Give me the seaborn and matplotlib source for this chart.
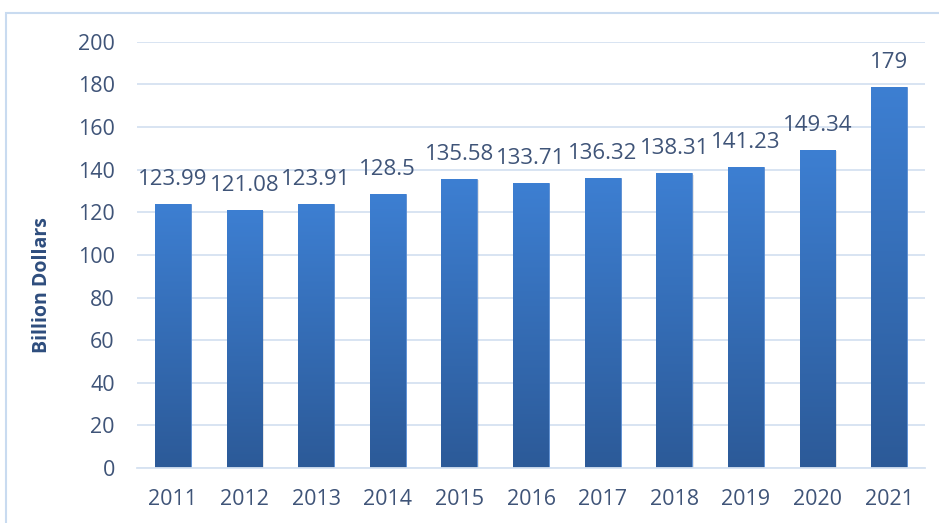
import matplotlib
matplotlib.use("Agg")
import matplotlib.pyplot as plt
import seaborn as sns
import numpy as np
import pandas as pd
from matplotlib.colors import LinearSegmentedColormap
from matplotlib.patches import Rectangle

# data
years = ['2011', '2012', '2013', '2014', '2015', '2016', '2017', '2018', '2019', '2020', '2021']
values = [123.99, 121.08, 123.91, 128.5, 135.58, 133.71, 136.32, 138.31, 141.23, 149.34, 179]
labels = ['123.99', '121.08', '123.91', '128.5', '135.58', '133.71', '136.32', '138.31', '141.23', '149.34', '179']

df = pd.DataFrame({'year': years, 'value': values})

sns.set_style("white")
plt.rcParams['font.family'] = ['Open Sans', 'DejaVu Sans']

text_col = '#3f5478'
grid_col = '#d6e2f1'

fig = plt.figure(figsize=(9.39, 5.23), dpi=100)
ax = fig.add_axes([0.146, 0.105, 0.839, 0.815])

sns.barplot(data=df, x='year', y='value', color='#3a78c8', width=0.5, ax=ax, zorder=2)

# gradient fill on each bar (lighter at top, darker at bottom)
cmap = LinearSegmentedColormap.from_list('bar', ['#2c5a98', '#3d7fd2'])
grad = np.linspace(0, 1, 256).reshape(-1, 1)
for p in ax.patches:
    x0, y0 = p.get_x(), p.get_y()
    w, h = p.get_width(), p.get_height()
    # soft shadow
    ax.add_patch(Rectangle((x0 + 0.02, y0), w, h - 0.6, color='#000000', alpha=0.10, zorder=1.5, lw=0))
    im = ax.imshow(grad, extent=[x0, x0 + w, y0, y0 + h], origin='lower', cmap=cmap,
                   aspect='auto', zorder=2.5)
    im.set_clip_path(p)
    p.set_edgecolor('#5b8fd6')
    p.set_linewidth(0.6)

# value labels
for p, lab in zip(ax.patches, labels):
    ax.text(p.get_x() + p.get_width() / 2, p.get_height() + 6.5, lab,
            ha='center', va='bottom', fontsize=16, color=text_col, zorder=4)

ax.set_xlim(-0.5, 10.5)
ax.set_ylim(0, 200)
ax.set_yticks(range(0, 201, 20))
ax.yaxis.grid(True, color=grid_col, linewidth=1.3)
ax.set_axisbelow(True)
for s in ['top', 'right', 'left']:
    ax.spines[s].set_visible(False)
ax.spines['bottom'].set_color(grid_col)
ax.spines['bottom'].set_linewidth(1.3)
ax.tick_params(axis='both', length=0, labelsize=15.5, labelcolor=text_col)
ax.tick_params(axis='y', pad=16)
ax.tick_params(axis='x', pad=15)
ax.set_xlabel('')
ax.set_ylabel('Billion Dollars', fontsize=14, fontweight='bold', color='#2e4d7d')
ax.yaxis.set_label_coords(-0.108, 0.43)

# outer chart border
fig.patches.append(Rectangle((0.006, -0.05), 1.1, 1.025, transform=fig.transFigure,
                             fill=False, edgecolor='#c9dbf0', linewidth=1.5))

fig.savefig('out.png', dpi=100)
